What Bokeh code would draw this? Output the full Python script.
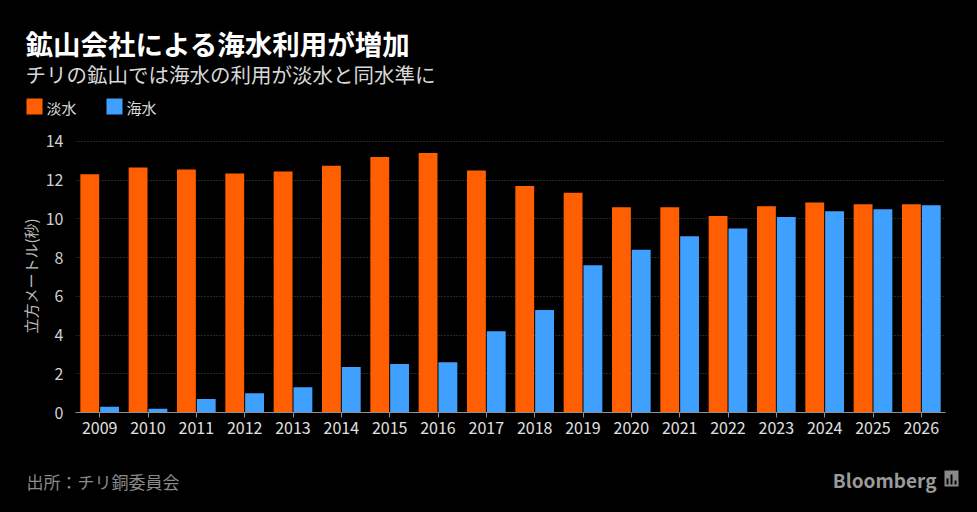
from bokeh.plotting import figure
from bokeh.models import ColumnDataSource, FactorRange, Range1d
from bokeh.layouts import column
from bokeh.transform import dodge
from bokeh.core.properties import value
from bokeh.embed import file_html
from bokeh.resources import INLINE

years = ["2009", "2010", "2011", "2012", "2013", "2014", "2015", "2016", "2017",
         "2018", "2019", "2020", "2021", "2022", "2023", "2024", "2025", "2026"]
freshwater = [12.3, 12.65, 12.55, 12.35, 12.45, 12.75, 13.2, 13.4, 12.5,
              11.7, 11.35, 10.6, 10.6, 10.15, 10.65, 10.85, 10.75, 10.75]
seawater = [0.3, 0.2, 0.7, 1.0, 1.3, 2.35, 2.5, 2.6, 4.2,
            5.3, 7.6, 8.4, 9.1, 9.5, 10.1, 10.4, 10.5, 10.7]
yticks = [0, 2, 4, 6, 8, 10, 12, 14]

title = "鉱山会社による海水利用が増加"
subtitle = "チリの鉱山では海水の利用が淡水と同水準に"
ylabel = "立方メートル(秒)"
source_text = "出所：チリ銅委員会"
brand = "Bloomberg"
series_names = ["淡水", "海水"]

FONT = "Noto Sans CJK JP"
ORANGE = "#FF5F00"
BLUE = "#3FA0FF"
W = 977
BG = {"background-color": "black"}


def blank(height):
    f = figure(width=W, height=height, x_range=Range1d(0, W), y_range=Range1d(height, 0),
               output_backend="svg", toolbar_location=None,
               x_axis_type=None, y_axis_type=None,
               background_fill_color="black", border_fill_color="black",
               min_border=0, frame_align=False, styles=BG)
    f.outline_line_color = None
    f.xgrid.grid_line_color = None
    f.ygrid.grid_line_color = None
    return f


def txt(f, x, y, s, size, color, style="normal", align="left"):
    f.text(x=[x], y=[y], text=[s], text_font=value(FONT), text_font_size=size,
           text_color=color, text_font_style=style, text_align=align,
           text_baseline="middle")


# header
HEAD_H = 129
head = blank(HEAD_H)
txt(head, 25, 42, title, "27.5px", "#ffffff", style="bold")
txt(head, 25, 73, subtitle, "20.5px", "#d8d8d8")
head.rect(x=[34, 114], y=[106, 106], width=16, height=16,
          fill_color=[ORANGE, BLUE], line_color=None)
txt(head, 46, 107, series_names[0], "15px", "#d8d8d8")
txt(head, 126, 107, series_names[1], "15px", "#d8d8d8")

# main chart
src = ColumnDataSource(dict(year=years, fresh=freshwater, sea=seawater))
p = figure(width=W, height=326, x_range=FactorRange(*years), y_range=Range1d(0, 14.1),
           output_backend="svg", toolbar_location=None,
           background_fill_color="black", border_fill_color="black",
           min_border_left=75, min_border_right=32, min_border_top=10, min_border_bottom=43,
           frame_align=False, styles=BG)
p.outline_line_color = None

p.vbar(x=dodge("year", -0.205, range=p.x_range), top="fresh", width=0.39,
       source=src, fill_color=ORANGE, line_color=None)
p.vbar(x=dodge("year", 0.205, range=p.x_range), top="sea", width=0.39,
       source=src, fill_color=BLUE, line_color=None)

p.xgrid.grid_line_color = None
p.ygrid.grid_line_color = "#4a4a4a"
p.ygrid.grid_line_dash = "1 2"
p.ygrid.ticker = yticks

p.yaxis.ticker = yticks
p.yaxis.axis_line_color = None
p.yaxis.major_tick_line_color = None
p.yaxis.minor_tick_line_color = None
p.yaxis.major_label_text_color = "#d0d0d0"
p.yaxis.major_label_text_font = FONT
p.yaxis.major_label_text_font_size = "16px"
p.yaxis.major_label_standoff = 6
p.yaxis.axis_label = ylabel
p.yaxis.axis_label_text_font = FONT
p.yaxis.axis_label_text_font_size = "15px"
p.yaxis.axis_label_text_font_style = "normal"
p.yaxis.axis_label_text_color = "#bbbbbb"
p.yaxis.axis_label_standoff = 2

p.xaxis.axis_line_color = "#909090"
p.xaxis.major_tick_line_color = "#909090"
p.xaxis.major_tick_in = 0
p.xaxis.major_tick_out = 5
p.xaxis.major_label_text_color = "#e0e0e0"
p.xaxis.major_label_text_font = FONT
p.xaxis.major_label_text_font_size = "16px"
p.xaxis.major_label_standoff = 4

# footer
FOOT_H = 512 - HEAD_H - 326
foot = blank(FOOT_H)
txt(foot, 26, 26, source_text, "17px", "#8a8a8a")
txt(foot, 936, 24, brand, "19px", "#9a9a9a", style="bold", align="right")
foot.rect(x=[951], y=[23], width=14, height=16, fill_color="#8a8a8a", line_color=None)
foot.rect(x=[947, 951, 955], y=[26, 24, 27], width=2, height=[6, 10, 4],
          fill_color="black", line_color=None)

layout = column(head, p, foot, spacing=0, styles=BG)
html = file_html(layout, INLINE)
html = html.replace("<body>", '<body style="background-color: black;">')
open("out.html", "w").write(html)
